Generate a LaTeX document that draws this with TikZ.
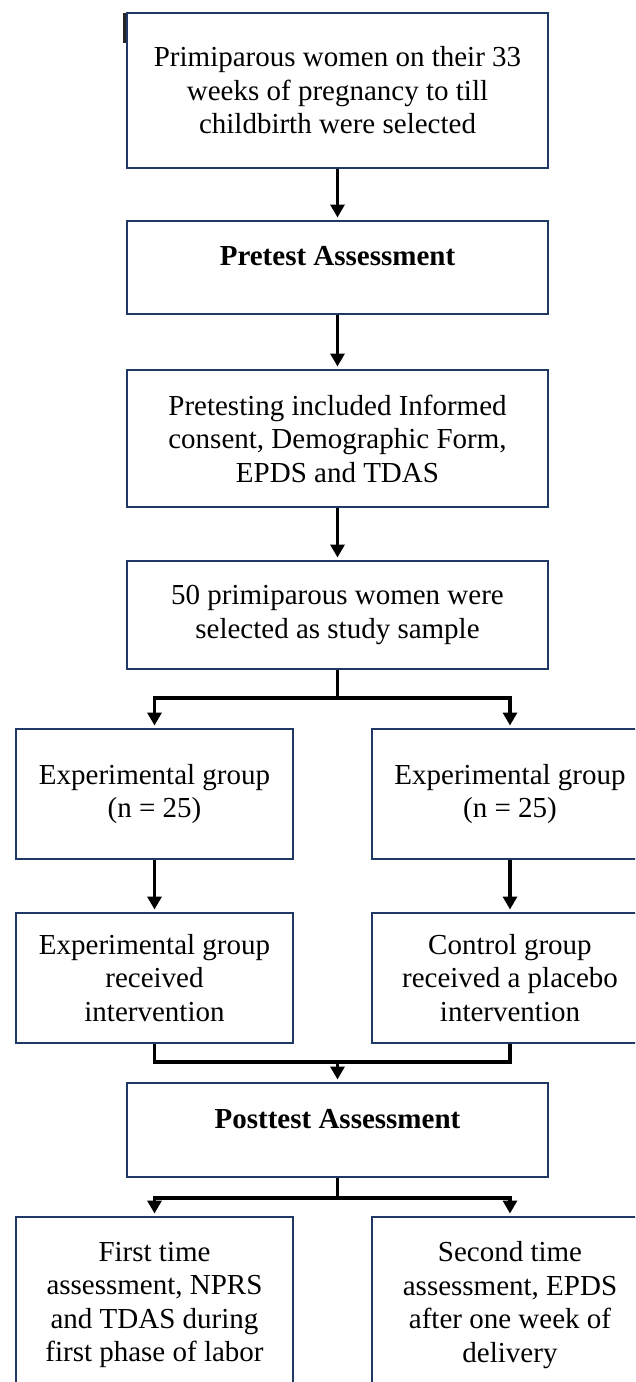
\documentclass[tikz,border=0pt]{standalone}
\usepackage{fontspec}
\setmainfont{Liberation Serif}
\usetikzlibrary{arrows.meta,calc}
\definecolor{boxblue}{RGB}{31,56,100}
\begin{document}
\begin{tikzpicture}[x=1pt,y=-1pt,
  box/.style={draw=boxblue,line width=2pt,align=center,inner sep=0pt,
    font=\fontsize{29}{33.5}\selectfont},
  wide/.style={box,minimum width=421pt},
  side/.style={box,minimum width=277pt},
  headtext/.style={text height=20pt,text depth=24pt},
  conn/.style={line width=3.8pt,draw=black},
  arr/.style={conn,-{Triangle[width=14pt,length=13pt]},shorten >=2.5pt}]
\clip (0,0) rectangle (635,1382);
\fill[white] (0,0) rectangle (635,1382);
% small dark mark at the top-left corner of the first box
\draw[line width=3.5pt,black!85] (124.5,13) -- (124.5,43);

\node[wide,minimum height=155pt] (top) at (337.5,90.5)
  {Primiparous women on their 33\\weeks of pregnancy to till\\childbirth were selected};
\node[wide,minimum height=93pt,headtext] (pre) at (337.5,267.5)
  {\textbf{Pretest Assessment}};
\node[wide,minimum height=137pt] (incl) at (337.5,438.5)
  {Pretesting included Informed\\consent, Demographic Form,\\EPDS and TDAS};
\node[wide,minimum height=108pt] (samp) at (337.5,615)
  {50 primiparous women were\\selected as study sample};
\node[side,minimum height=130pt] (e1) at (154.5,794)
  {Experimental group\\(n = 25)};
\node[side,minimum height=130pt] (e2) at (510,794)
  {Experimental group\\(n = 25)};
\node[side,minimum height=130pt] (r1) at (154.5,978)
  {Experimental group\\received\\intervention};
\node[side,minimum height=130pt] (r2) at (510,978)
  {Control group\\received a placebo\\intervention};
\node[wide,minimum height=94pt,headtext] (post) at (337.5,1130)
  {\textbf{Posttest Assessment}};
\node[side,minimum height=176pt] (f1) at (154.5,1305)
  {First time\\assessment, NPRS\\and TDAS during\\first phase of labor};
\node[side,minimum height=176pt] (f2) at (510,1305)
  {Second time\\assessment, EPDS\\after one week of\\delivery};

\draw[arr] (top.south) -- (pre.north);
\draw[arr] (pre.south) -- (incl.north);
\draw[arr] (incl.south) -- (samp.north);

\coordinate (s1) at ($(samp.south)+(0,28)$);
\draw[conn] (samp.south) -- (s1);
\draw[arr] (s1) -| (e1.north);
\draw[arr] (s1) -| (e2.north);

\draw[arr] (e1.south) -- (r1.north);
\draw[arr] (e2.south) -- (r2.north);

\coordinate (j1) at ($(post.north)+(0,-20)$);
\draw[conn] (r1.south) |- (j1);
\draw[conn] (r2.south) |- (j1);
\draw[arr] (j1) -- (post.north);

\coordinate (s2) at ($(post.south)+(0,20)$);
\draw[conn] (post.south) -- (s2);
\draw[arr] (s2) -| (f1.north);
\draw[arr] (s2) -| (f2.north);
\end{tikzpicture}
\end{document}
